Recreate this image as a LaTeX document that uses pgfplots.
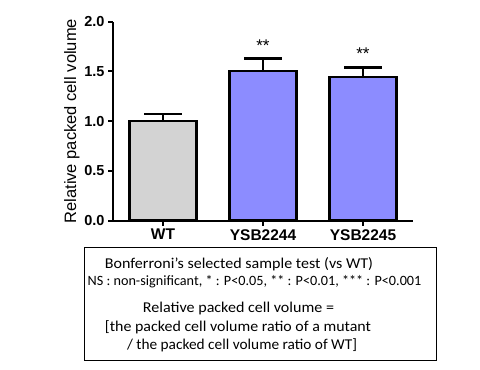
\documentclass[border=0pt]{standalone}
\usepackage{pgfplots}
\pgfplotsset{compat=1.18}
\usepackage{fontspec}
\setmainfont{Liberation Sans}
\newfontfamily\calfont{Carlito}
\definecolor{bargray}{RGB}{211,211,211}
\definecolor{barblue}{RGB}{140,140,255}
\begin{document}
\begin{tikzpicture}[x=1pt,y=1pt]
\useasboundingbox (0,0) rectangle (480,370);
\begin{axis}[
  at={(113,150)}, anchor=south west,
  scale only axis, width=300pt, height=199pt,
  xmin=-0.5, xmax=2.5, ymin=0, ymax=2,
  ytick={0,0.5,1,1.5,2},
  yticklabel style={/pgf/number format/fixed,/pgf/number format/fixed zerofill,/pgf/number format/precision=1,font=\bfseries\fontsize{14.5}{14.5}\selectfont},
  xtick={0,1,2}, xticklabels={WT,YSB2244,YSB2245},
  xticklabel style={font=\bfseries\fontsize{15.5}{15.5}\selectfont},
  axis x line*=bottom, axis y line*=left,
  axis line style={line width=2pt,-},
  tick style={line width=2pt,black},
  major tick length=5pt, tick align=outside,
  /pgf/number format/assume math mode=true,
  ylabel={Relative packed cell volume},
  ylabel style={font=\fontsize{16.5}{16.5}\selectfont, yshift=-2pt},
  clip=false,
  ybar, bar width=67pt,
  error bars/y dir=plus, error bars/y explicit,
  error bars/error bar style={line width=2.5pt,black},
  error bars/error mark options={rotate=90,mark size=19pt,line width=2.5pt,black},
]
\addplot[bar shift=0pt, fill=bargray, draw=black, line width=2.5pt] coordinates {(0,1.0) +- (0,0.075)};
\addplot[bar shift=0pt, fill=barblue, draw=black, line width=2.5pt] coordinates {(1,1.507) +- (0,0.123) (2,1.447) +- (0,0.093)};
\node[font=\fontsize{17}{17}\selectfont] at (axis cs:1,1.76) {**};
\node[font=\fontsize{17}{17}\selectfont] at (axis cs:2,1.68) {**};
\end{axis}
\draw[line width=1pt] (84,9) rectangle (436,122);
\begin{scope}[every node/.style={font=\calfont\fontsize{15}{15}\selectfont, inner sep=0pt}]
\node at (239,106) {\resizebox{268pt}{\height}{Bonferroni’s selected sample test (vs WT)}};
\node[font=\calfont\fontsize{14.2}{14.2}\selectfont] at (254.5,88) {NS : non-significant, * : P<0.05, ** : P<0.01, *** : P<0.001};
\node at (238.5,61) {\resizebox{191pt}{\height}{Relative packed cell volume =}};
\node at (238,43) {\resizebox{266pt}{\height}{[the packed cell volume ratio of a mutant}};
\node at (242,25) {\resizebox{230pt}{\height}{/ the packed cell volume ratio of WT]}};
\end{scope}
\end{tikzpicture}
\end{document}
